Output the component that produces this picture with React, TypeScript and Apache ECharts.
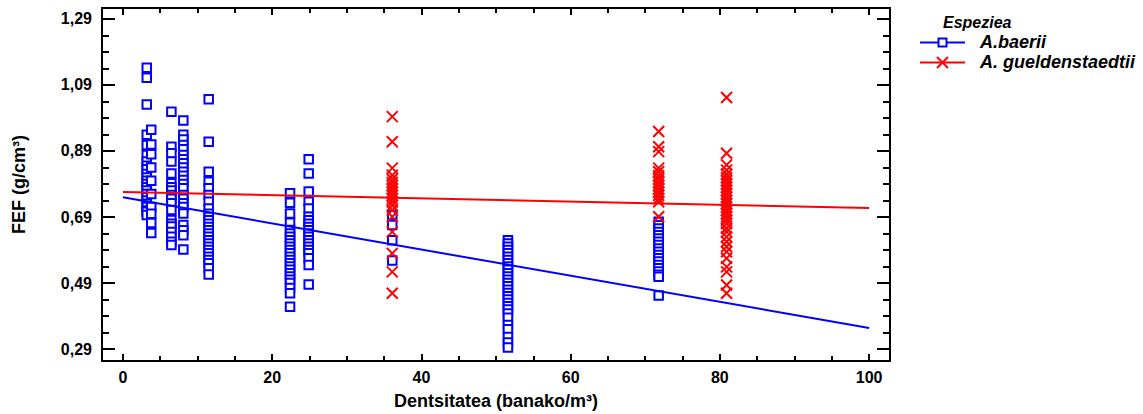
import React, { useEffect, useRef } from "react";
import * as echarts from "echarts";

// Axis ticks
const xMajorTicks = [0, 20, 40, 60, 80, 100];
const xMinorTicks = [5, 10, 15, 25, 30, 35, 45, 50, 55, 65, 70, 75, 85, 90, 95];
const yMajorTicks = [0.29, 0.49, 0.69, 0.89, 1.09, 1.29];
const yMinorTicks = [0.34, 0.39, 0.44, 0.54, 0.59, 0.64, 0.74, 0.79, 0.84, 0.94, 0.99, 1.04, 1.14, 1.19, 1.24];

// A.baerii observations (density x, FEF values)
const baeriiX = [3.2, 3.8, 6.5, 8.1, 11.5, 22.4, 24.9, 36.1, 51.6, 71.8];
const baerii_3_2 = [1.142, 1.112, 1.031, 0.939, 0.908, 0.878, 0.858, 0.845, 0.835, 0.82, 0.81, 0.8, 0.79, 0.78, 0.77, 0.76, 0.75, 0.74, 0.73, 0.72, 0.71, 0.706, 0.696];
const baerii_3_8 = [0.954, 0.91, 0.88, 0.84, 0.8, 0.76, 0.72, 0.7, 0.672, 0.642];
const baerii_6_5 = [1.009, 0.903, 0.883, 0.858, 0.822, 0.792, 0.78, 0.77, 0.757, 0.745, 0.732, 0.711, 0.681, 0.67, 0.661, 0.645, 0.63, 0.615, 0.605];
const baerii_8_1 = [0.982, 0.939, 0.925, 0.908, 0.895, 0.878, 0.865, 0.853, 0.84, 0.827, 0.815, 0.802, 0.79, 0.777, 0.757, 0.745, 0.732, 0.72, 0.701, 0.666, 0.65, 0.635, 0.592];
const baerii_11_5 = [1.047, 0.918, 0.827, 0.797, 0.777, 0.757, 0.736, 0.716, 0.7, 0.69, 0.68, 0.67, 0.66, 0.65, 0.64, 0.63, 0.62, 0.61, 0.6, 0.59, 0.58, 0.57, 0.56, 0.55, 0.535, 0.516];
const baerii_22_4 = [0.762, 0.733, 0.701, 0.673, 0.651, 0.64, 0.63, 0.62, 0.61, 0.6, 0.59, 0.58, 0.57, 0.56, 0.55, 0.54, 0.53, 0.52, 0.51, 0.5, 0.49, 0.475, 0.459, 0.418];
const baerii_24_9 = [0.865, 0.822, 0.767, 0.736, 0.716, 0.691, 0.68, 0.67, 0.66, 0.65, 0.64, 0.63, 0.62, 0.61, 0.6, 0.59, 0.58, 0.565, 0.545, 0.486];
const baerii_36_1 = [0.696, 0.666, 0.62, 0.558];
const baerii_51_6 = [0.62, 0.61, 0.6, 0.59, 0.58, 0.57, 0.56, 0.55, 0.54, 0.53, 0.52, 0.51, 0.5, 0.49, 0.48, 0.47, 0.46, 0.45, 0.44, 0.43, 0.42, 0.41, 0.398, 0.385, 0.363, 0.35, 0.327, 0.31, 0.295];
const baerii_71_8 = [0.676, 0.665, 0.655, 0.645, 0.635, 0.625, 0.615, 0.605, 0.595, 0.585, 0.575, 0.565, 0.555, 0.545, 0.535, 0.525, 0.515, 0.509, 0.452];
const baeriiGroups = [baerii_3_2, baerii_3_8, baerii_6_5, baerii_8_1, baerii_11_5, baerii_22_4, baerii_24_9, baerii_36_1, baerii_51_6, baerii_71_8];

// A. gueldenstaedtii observations
const guelX = [36.1, 71.8, 80.9];
const guel_36_1 = [0.994, 0.918, 0.838, 0.817, 0.805, 0.795, 0.785, 0.775, 0.765, 0.755, 0.745, 0.735, 0.725, 0.711, 0.691, 0.645, 0.58, 0.524, 0.459];
const guel_71_8 = [0.949, 0.903, 0.888, 0.838, 0.827, 0.815, 0.805, 0.795, 0.785, 0.775, 0.765, 0.755, 0.745, 0.736, 0.691];
const guel_80_9 = [1.052, 0.883, 0.848, 0.832, 0.82, 0.81, 0.8, 0.79, 0.78, 0.77, 0.76, 0.75, 0.74, 0.73, 0.72, 0.71, 0.7, 0.69, 0.68, 0.67, 0.656, 0.645, 0.63, 0.615, 0.6, 0.585, 0.565, 0.539, 0.524, 0.484, 0.459];
const guelGroups = [guel_36_1, guel_71_8, guel_80_9];

// Fitted lines (endpoints at x = 0 and x = 100)
const fitX = [0, 100];
const baeriiFit = [0.75, 0.354];
const guelFit = [0.766, 0.717];

const FONT = "'Liberation Sans', Arial, sans-serif";
const BLUE = "#0000ff";
const RED = "#ff0000";

function pairs(xs: number[], groups: number[][]) {
  const out: number[][] = [];
  groups.forEach((g, i) => g.forEach((v) => out.push([xs[i], v])));
  return out;
}

export default function App() {
  const ref = useRef<HTMLDivElement>(null);
  useEffect(() => {
    if (!ref.current) return;
    const chart = echarts.init(ref.current, null, { renderer: "svg" });
    const tickStyle = { color: "#000", width: 2 };
    const baseAxis = {
      type: "value",
      splitLine: { show: false },
      axisLine: { show: false, onZero: false },
    };
    const xCommon = { ...baseAxis, min: -2.8, max: 102.8 };
    const yCommon = { ...baseAxis, min: 0.254, max: 1.323 };
    const option: any = {
      animation: false,
      grid: { left: 102, top: 8, width: 788, height: 353, containLabel: false, outerBoundsMode: "none" },
      xAxis: [
        {
          ...xCommon,
          position: "bottom",
          axisLine: { show: true, onZero: false, lineStyle: { color: "#000", width: 2 } },
          axisTick: { show: true, inside: true, length: 7, customValues: xMajorTicks, lineStyle: tickStyle },
          axisLabel: {
            show: true,
            customValues: xMajorTicks,
            margin: 8,
            color: "#000",
            fontFamily: FONT,
            fontWeight: "bold",
            fontSize: 16,
            formatter: (v: number) => String(Math.round(v)),
          },
          name: "Dentsitatea (banako/m³)",
          nameLocation: "middle",
          nameGap: 31,
          nameTextStyle: { color: "#000", fontFamily: FONT, fontWeight: "bold", fontSize: 18 },
        },
        {
          ...xCommon,
          position: "bottom",
          axisTick: { show: true, inside: true, length: 5, customValues: xMinorTicks, lineStyle: tickStyle },
          axisLabel: { show: false },
        },
        {
          ...xCommon,
          position: "top",
          axisLine: { show: true, onZero: false, lineStyle: { color: "#000", width: 2 } },
          axisTick: { show: true, inside: true, length: 7, customValues: xMajorTicks, lineStyle: tickStyle },
          axisLabel: { show: false },
        },
        {
          ...xCommon,
          position: "top",
          axisTick: { show: true, inside: true, length: 5, customValues: xMinorTicks, lineStyle: tickStyle },
          axisLabel: { show: false },
        },
      ],
      yAxis: [
        {
          ...yCommon,
          position: "left",
          axisLine: { show: true, onZero: false, lineStyle: { color: "#000", width: 2 } },
          axisTick: { show: true, inside: true, length: 13, customValues: yMajorTicks, lineStyle: tickStyle },
          axisLabel: {
            show: true,
            customValues: yMajorTicks,
            margin: 10,
            color: "#000",
            fontFamily: FONT,
            fontWeight: "bold",
            fontSize: 16,
            formatter: (v: number) => v.toFixed(2).replace(".", ","),
          },
          name: "FEF (g/cm³)",
          nameLocation: "middle",
          nameRotate: 90,
          nameGap: 74,
          nameTextStyle: { color: "#000", fontFamily: FONT, fontWeight: "bold", fontSize: 18 },
        },
        {
          ...yCommon,
          position: "left",
          axisTick: { show: true, inside: true, length: 7, customValues: yMinorTicks, lineStyle: tickStyle },
          axisLabel: { show: false },
        },
        {
          ...yCommon,
          position: "right",
          axisLine: { show: true, onZero: false, lineStyle: { color: "#000", width: 2 } },
          axisTick: { show: true, inside: true, length: 13, customValues: yMajorTicks, lineStyle: tickStyle },
          axisLabel: { show: false },
        },
        {
          ...yCommon,
          position: "right",
          axisTick: { show: true, inside: true, length: 7, customValues: yMinorTicks, lineStyle: tickStyle },
          axisLabel: { show: false },
        },
      ],
      series: [
        {
          name: "A.baerii",
          type: "scatter",
          data: pairs(baeriiX, baeriiGroups),
          symbol: "rect",
          symbolSize: 8.5,
          itemStyle: { color: "#ffffff", borderColor: BLUE, borderWidth: 2, opacity: 1 },
          z: 2,
        },
        {
          name: "A. gueldenstaedtii",
          type: "scatter",
          data: pairs(guelX, guelGroups),
          symbol: "path://M0,0L10,10M10,0L0,10",
          symbolSize: 11,
          itemStyle: { color: "rgba(0,0,0,0)", borderColor: RED, borderWidth: 2, opacity: 1 },
          z: 3,
        },
        {
          type: "line",
          data: fitX.map((x, i) => [x, baeriiFit[i]]),
          showSymbol: false,
          lineStyle: { color: BLUE, width: 2 },
          z: 4,
        },
        {
          type: "line",
          data: fitX.map((x, i) => [x, guelFit[i]]),
          showSymbol: false,
          lineStyle: { color: RED, width: 2 },
          z: 5,
        },
      ],
      graphic: [
        {
          type: "text",
          left: 943,
          top: 14,
          style: { text: "Espeziea", fill: "#000", font: `italic bold 16px ${FONT}` },
        },
        { type: "line", shape: { x1: 920, y1: 42.5, x2: 965, y2: 42.5 }, style: { stroke: BLUE, lineWidth: 2 } },
        { type: "rect", shape: { x: 938.5, y: 38.5, width: 8, height: 8 }, style: { stroke: BLUE, fill: "#fff", lineWidth: 2 } },
        {
          type: "text",
          left: 980,
          top: 33,
          style: { text: "A.baerii", fill: "#000", font: `italic bold 18px ${FONT}` },
        },
        { type: "line", shape: { x1: 920, y1: 62.5, x2: 965, y2: 62.5 }, style: { stroke: RED, lineWidth: 2 } },
        { type: "line", shape: { x1: 937, y1: 57, x2: 948, y2: 68 }, style: { stroke: RED, lineWidth: 2 } },
        { type: "line", shape: { x1: 937, y1: 68, x2: 948, y2: 57 }, style: { stroke: RED, lineWidth: 2 } },
        {
          type: "text",
          left: 980,
          top: 53,
          style: { text: "A. gueldenstaedtii", fill: "#000", font: `italic bold 18px ${FONT}` },
        },
      ],
    };
    chart.setOption(option);
    return () => chart.dispose();
  }, []);
  return (
    <div
      ref={ref}
      style={{ position: "fixed", left: 0, top: 0, width: 1143, height: 414, background: "#fff" }}
    />
  );
}
